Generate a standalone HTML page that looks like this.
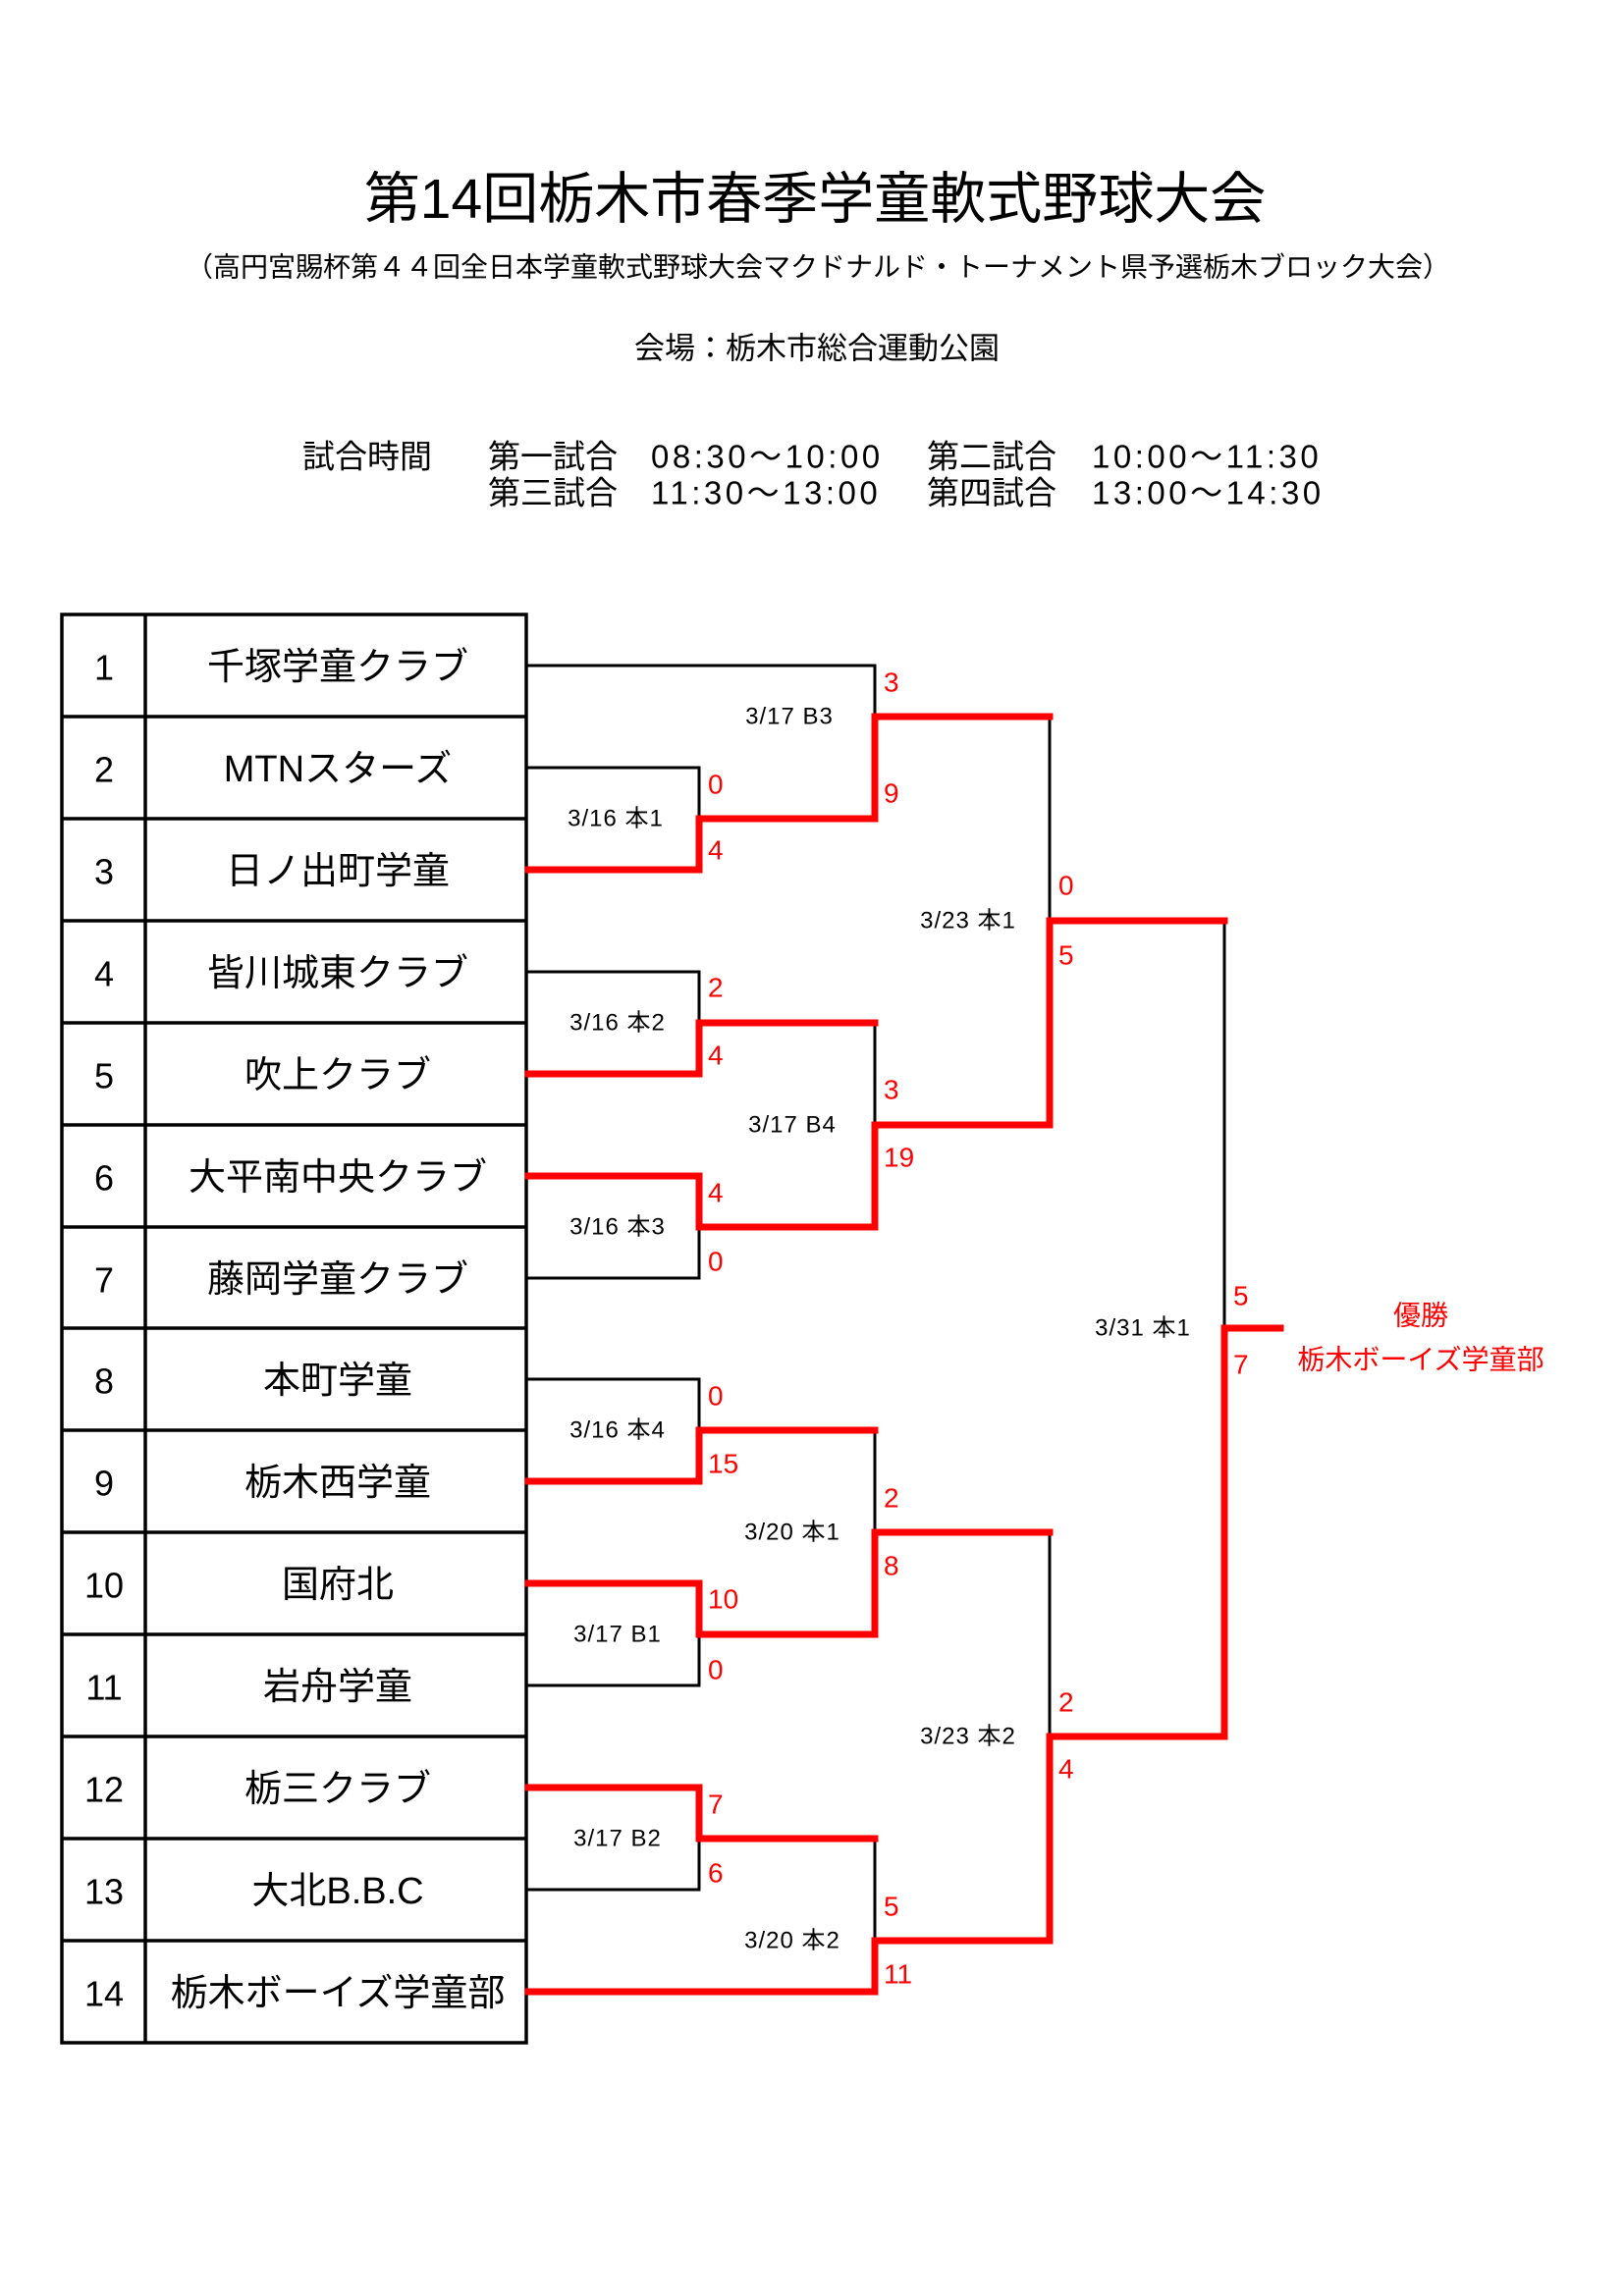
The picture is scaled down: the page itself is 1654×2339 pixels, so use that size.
<!DOCTYPE html>
<html><head><meta charset="utf-8"><style>
html,body{margin:0;padding:0;background:#fff;}
svg{display:block;}
text{font-family:"Liberation Sans","Noto Sans CJK JP",sans-serif;}
</style></head><body>
<svg width="1654" height="2339" viewBox="0 0 1654 2339" xmlns="http://www.w3.org/2000/svg">
<rect width="1654" height="2339" fill="#fff"/>
<g fill="#000" text-anchor="middle" dominant-baseline="central">
<text x="830" y="203" font-size="57">第14回栃木市春季学童軟式野球大会</text>
<text x="833" y="272" font-size="28">（高円宮賜杯第４４回全日本学童軟式野球大会マクドナルド・トーナメント県予選栃木ブロック大会）</text>
<text x="832" y="355" font-size="31">会場：栃木市総合運動公園</text>
</g>
<g fill="#000" font-size="33" dominant-baseline="central">
<text x="308" y="465">試合時間</text>
<text x="497" y="465">第一試合</text>
<text x="663" y="465" letter-spacing="3.5">08:30～10:00</text>
<text x="944" y="465">第二試合</text>
<text x="1112" y="465" letter-spacing="3.5">10:00～11:30</text>
<text x="497" y="502">第三試合</text>
<text x="663" y="502" letter-spacing="3.5">11:30～13:00</text>
<text x="944" y="502">第四試合</text>
<text x="1112" y="502" letter-spacing="3.5">13:00～14:30</text>
</g>
<g stroke="#000" stroke-width="3.5" fill="none">
<rect x="63" y="626" width="473" height="1455"/>
<line x1="148" y1="626" x2="148" y2="2081"/>
<line x1="63" y1="730" x2="536" y2="730"/>
<line x1="63" y1="834" x2="536" y2="834"/>
<line x1="63" y1="938" x2="536" y2="938"/>
<line x1="63" y1="1042" x2="536" y2="1042"/>
<line x1="63" y1="1146" x2="536" y2="1146"/>
<line x1="63" y1="1250" x2="536" y2="1250"/>
<line x1="63" y1="1353" x2="536" y2="1353"/>
<line x1="63" y1="1457" x2="536" y2="1457"/>
<line x1="63" y1="1561" x2="536" y2="1561"/>
<line x1="63" y1="1665" x2="536" y2="1665"/>
<line x1="63" y1="1769" x2="536" y2="1769"/>
<line x1="63" y1="1873" x2="536" y2="1873"/>
<line x1="63" y1="1977" x2="536" y2="1977"/>
</g>
<g fill="#000" text-anchor="middle" dominant-baseline="central" font-size="36">
<text x="106" y="680">1</text><text x="106" y="784">2</text><text x="106" y="888">3</text>
<text x="106" y="992">4</text><text x="106" y="1096">5</text><text x="106" y="1200">6</text>
<text x="106" y="1304">7</text><text x="106" y="1407">8</text><text x="106" y="1511">9</text>
<text x="106" y="1615">10</text><text x="106" y="1719">11</text><text x="106" y="1823">12</text>
<text x="106" y="1927">13</text><text x="106" y="2031">14</text>
</g>
<g fill="#000" text-anchor="middle" dominant-baseline="central" font-size="38">
<text x="344" y="680">千塚学童クラブ</text>
<text x="344" y="784">MTNスターズ</text>
<text x="344" y="888">日ノ出町学童</text>
<text x="344" y="992">皆川城東クラブ</text>
<text x="344" y="1096">吹上クラブ</text>
<text x="344" y="1200">大平南中央クラブ</text>
<text x="344" y="1304">藤岡学童クラブ</text>
<text x="344" y="1407">本町学童</text>
<text x="344" y="1511">栃木西学童</text>
<text x="344" y="1615">国府北</text>
<text x="344" y="1719">岩舟学童</text>
<text x="344" y="1823">栃三クラブ</text>
<text x="344" y="1927">大北B.B.C</text>
<text x="344" y="2031">栃木ボーイズ学童部</text>
</g>
<g stroke="#000" stroke-width="3" fill="none">
<polyline points="536,678 891,678 891,730"/>
<polyline points="536,782 712,782 712,834"/>
<polyline points="536,990 712,990 712,1042"/>
<polyline points="536,1302 712,1302 712,1250"/>
<line x1="891" y1="1042" x2="891" y2="1146"/>
<line x1="1069" y1="730" x2="1069" y2="938"/>
<line x1="1247" y1="938" x2="1247" y2="1353"/>
<polyline points="536,1405 712,1405 712,1457"/>
<polyline points="536,1717 712,1717 712,1665"/>
<line x1="891" y1="1457" x2="891" y2="1561"/>
<polyline points="536,1925 712,1925 712,1873"/>
<line x1="891" y1="1873" x2="891" y2="1977"/>
<line x1="1069" y1="1561" x2="1069" y2="1769"/>
</g>
<g stroke="#ff0000" stroke-width="7" fill="none" stroke-linejoin="miter" stroke-linecap="square">
<polyline points="538,886 712,886 712,834 891,834 891,730 1069,730"/>
<polyline points="538,1094 712,1094 712,1042 891,1042"/>
<polyline points="538,1198 712,1198 712,1250 891,1250 891,1146 1069,1146 1069,938 1247,938"/>
<polyline points="538,1509 712,1509 712,1457 891,1457"/>
<polyline points="538,1613 712,1613 712,1665 891,1665 891,1561 1069,1561"/>
<polyline points="538,1821 712,1821 712,1873 891,1873"/>
<polyline points="538,2029 891,2029 891,1977 1069,1977 1069,1769 1247,1769 1247,1353 1304,1353"/>
</g>
<g fill="#ff0000" font-size="28" dominant-baseline="central">
<text x="721" y="799">0</text><text x="721" y="866">4</text>
<text x="900" y="695">3</text><text x="900" y="808">9</text>
<text x="721" y="1006">2</text><text x="721" y="1075">4</text>
<text x="721" y="1215">4</text><text x="721" y="1285">0</text>
<text x="900" y="1110">3</text><text x="900" y="1179">19</text>
<text x="1078" y="902">0</text><text x="1078" y="973">5</text>
<text x="721" y="1422">0</text><text x="721" y="1491">15</text>
<text x="721" y="1629">10</text><text x="721" y="1701">0</text>
<text x="900" y="1526">2</text><text x="900" y="1595">8</text>
<text x="721" y="1838">7</text><text x="721" y="1908">6</text>
<text x="900" y="1942">5</text><text x="900" y="2011">11</text>
<text x="1078" y="1734">2</text><text x="1078" y="1802">4</text>
<text x="1256" y="1320">5</text><text x="1256" y="1390">7</text>
</g>
<g fill="#000" font-size="24" text-anchor="middle" dominant-baseline="central" letter-spacing="1">
<text x="804" y="730">3/17 B3</text>
<text x="627" y="834">3/16 本1</text>
<text x="986" y="938">3/23 本1</text>
<text x="629" y="1042">3/16 本2</text>
<text x="807" y="1146">3/17 B4</text>
<text x="629" y="1250">3/16 本3</text>
<text x="1164" y="1353">3/31 本1</text>
<text x="629" y="1457">3/16 本4</text>
<text x="807" y="1561">3/20 本1</text>
<text x="629" y="1665">3/17 B1</text>
<text x="986" y="1769">3/23 本2</text>
<text x="629" y="1873">3/17 B2</text>
<text x="807" y="1977">3/20 本2</text>
</g>
<g fill="#ff0000" font-size="28" text-anchor="middle" dominant-baseline="central">
<text x="1447" y="1340">優勝</text>
<text x="1447" y="1385">栃木ボーイズ学童部</text>
</g>
</svg>
</body></html>
